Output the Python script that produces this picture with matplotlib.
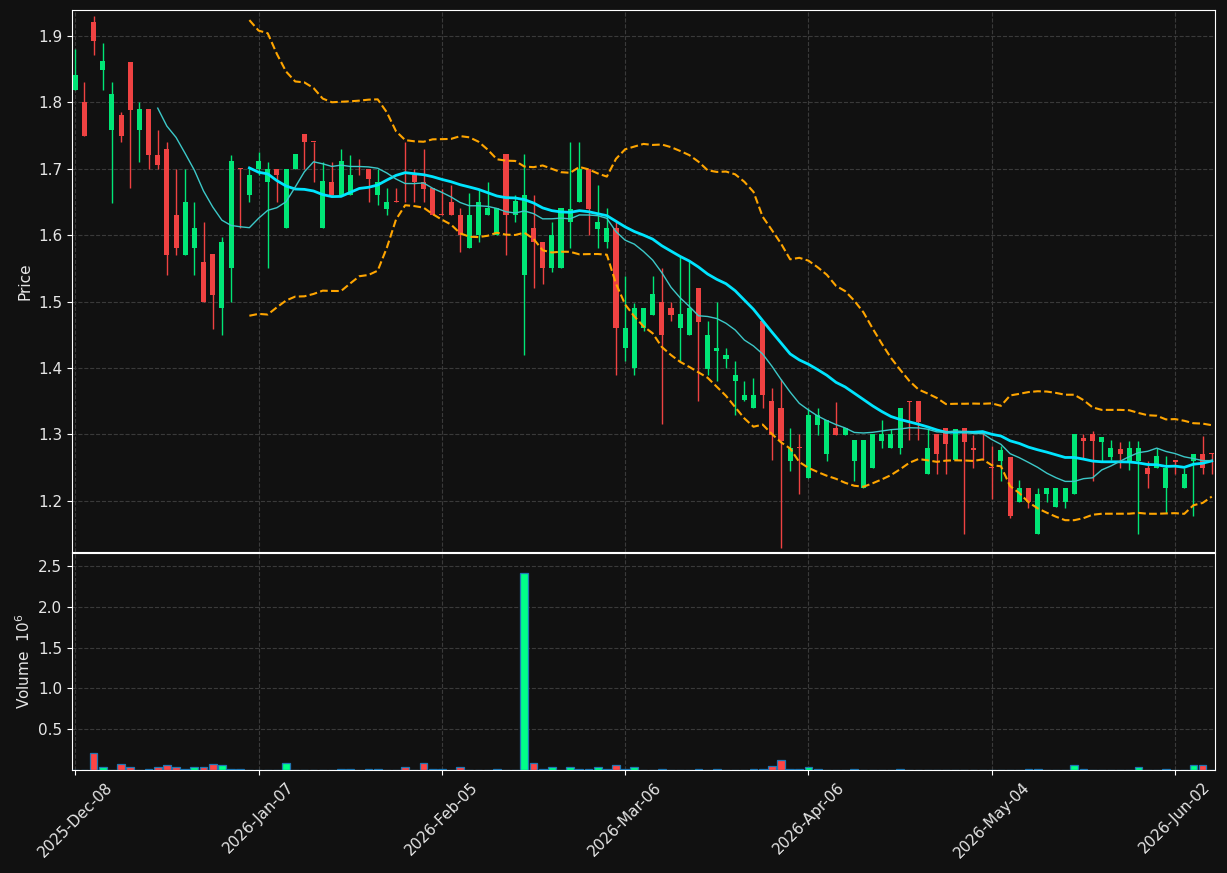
import numpy as np
import pandas as pd
import matplotlib
matplotlib.use("Agg")
import matplotlib.pyplot as plt

# daily OHLC (125 trading days)
opens = [1.819, 1.800, 1.921, 1.849, 1.759, 1.781, 1.861, 1.759, 1.790, 1.721,
         1.730, 1.631, 1.570, 1.580, 1.560, 1.571, 1.490, 1.550, 1.701, 1.660,
         1.700, 1.680, 1.700, 1.611, 1.700, 1.752, 1.741, 1.611, 1.680, 1.660,
         1.660, 1.700, 1.700, 1.660, 1.640, 1.651, 1.673, 1.691, 1.680, 1.671,
         1.631, 1.650, 1.631, 1.580, 1.600, 1.630, 1.600, 1.722, 1.630, 1.540,
         1.611, 1.590, 1.551, 1.551, 1.620, 1.650, 1.700, 1.610, 1.590, 1.611,
         1.430, 1.400, 1.461, 1.480, 1.500, 1.491, 1.460, 1.450, 1.521, 1.399,
         1.425, 1.414, 1.380, 1.352, 1.340, 1.471, 1.350, 1.340, 1.260, 1.281,
         1.234, 1.314, 1.270, 1.310, 1.299, 1.260, 1.219, 1.249, 1.290, 1.279,
         1.279, 1.350, 1.351, 1.240, 1.300, 1.310, 1.262, 1.310, 1.280, 1.302,
         1.251, 1.260, 1.266, 1.199, 1.220, 1.150, 1.210, 1.190, 1.199, 1.210,
         1.295, 1.300, 1.288, 1.266, 1.278, 1.260, 1.260, 1.250, 1.250, 1.219,
         1.262, 1.219, 1.260, 1.271, 1.272]
highs = [1.880, 1.830, 1.930, 1.890, 1.830, 1.785, 1.861, 1.800, 1.790, 1.759,
         1.740, 1.700, 1.700, 1.650, 1.620, 1.571, 1.598, 1.721, 1.701, 1.703,
         1.725, 1.710, 1.700, 1.700, 1.722, 1.752, 1.741, 1.710, 1.710, 1.730,
         1.721, 1.715, 1.700, 1.700, 1.671, 1.671, 1.741, 1.700, 1.730, 1.671,
         1.670, 1.675, 1.641, 1.664, 1.669, 1.680, 1.641, 1.722, 1.660, 1.722,
         1.660, 1.590, 1.620, 1.641, 1.740, 1.740, 1.700, 1.675, 1.641, 1.621,
         1.539, 1.498, 1.491, 1.539, 1.551, 1.500, 1.568, 1.561, 1.521, 1.471,
         1.500, 1.430, 1.410, 1.380, 1.385, 1.471, 1.370, 1.383, 1.310, 1.300,
         1.340, 1.340, 1.321, 1.349, 1.310, 1.291, 1.291, 1.300, 1.321, 1.308,
         1.340, 1.350, 1.351, 1.310, 1.300, 1.310, 1.308, 1.310, 1.299, 1.302,
         1.282, 1.282, 1.266, 1.232, 1.220, 1.220, 1.220, 1.220, 1.220, 1.300,
         1.300, 1.305, 1.296, 1.292, 1.288, 1.290, 1.290, 1.260, 1.280, 1.267,
         1.262, 1.250, 1.271, 1.298, 1.272]
lows = [1.818, 1.750, 1.871, 1.819, 1.649, 1.740, 1.671, 1.710, 1.700, 1.700,
        1.540, 1.570, 1.570, 1.540, 1.500, 1.459, 1.449, 1.500, 1.611, 1.650,
        1.690, 1.551, 1.650, 1.611, 1.700, 1.700, 1.680, 1.611, 1.660, 1.660,
        1.660, 1.690, 1.650, 1.645, 1.630, 1.650, 1.650, 1.650, 1.650, 1.630,
        1.630, 1.630, 1.575, 1.580, 1.590, 1.630, 1.600, 1.570, 1.620, 1.420,
        1.521, 1.526, 1.545, 1.551, 1.581, 1.650, 1.601, 1.581, 1.581, 1.390,
        1.410, 1.390, 1.455, 1.480, 1.315, 1.471, 1.410, 1.450, 1.350, 1.390,
        1.380, 1.400, 1.330, 1.350, 1.340, 1.340, 1.261, 1.129, 1.245, 1.211,
        1.234, 1.299, 1.260, 1.299, 1.299, 1.230, 1.219, 1.249, 1.280, 1.279,
        1.271, 1.291, 1.291, 1.240, 1.241, 1.241, 1.262, 1.150, 1.250, 1.262,
        1.203, 1.230, 1.174, 1.199, 1.189, 1.150, 1.199, 1.190, 1.189, 1.210,
        1.265, 1.230, 1.260, 1.262, 1.250, 1.247, 1.150, 1.220, 1.250, 1.182,
        1.240, 1.219, 1.177, 1.240, 1.240]
closes = [1.841, 1.750, 1.893, 1.862, 1.813, 1.750, 1.789, 1.790, 1.720, 1.705,
          1.570, 1.580, 1.650, 1.611, 1.500, 1.510, 1.590, 1.711, 1.700, 1.691,
          1.711, 1.700, 1.690, 1.700, 1.722, 1.740, 1.740, 1.681, 1.660, 1.711,
          1.691, 1.699, 1.684, 1.680, 1.650, 1.650, 1.672, 1.680, 1.670, 1.630,
          1.630, 1.630, 1.600, 1.631, 1.650, 1.641, 1.641, 1.630, 1.651, 1.661,
          1.590, 1.551, 1.601, 1.641, 1.639, 1.700, 1.640, 1.620, 1.611, 1.461,
          1.461, 1.491, 1.491, 1.511, 1.450, 1.480, 1.481, 1.491, 1.470, 1.450,
          1.430, 1.420, 1.390, 1.360, 1.360, 1.359, 1.299, 1.290, 1.280, 1.280,
          1.330, 1.330, 1.321, 1.299, 1.310, 1.291, 1.291, 1.300, 1.300, 1.300,
          1.340, 1.349, 1.318, 1.280, 1.270, 1.285, 1.308, 1.288, 1.276, 1.300,
          1.249, 1.277, 1.177, 1.220, 1.199, 1.211, 1.220, 1.220, 1.220, 1.300,
          1.290, 1.290, 1.296, 1.280, 1.270, 1.280, 1.280, 1.240, 1.268, 1.250,
          1.258, 1.241, 1.270, 1.249, 1.270]
volumes = [4000, 4000, 208000, 32000, 4000, 72000, 32000, 4000, 18000, 32000,
           59000, 32000, 18000, 32000, 32000, 72000, 59000, 18000, 18000, 4000,
           4000, 4000, 4000, 86000, 4000, 4000, 4000, 4000, 4000, 18000,
           18000, 4000, 18000, 18000, 4000, 4000, 32000, 4000, 86000, 18000,
           18000, 4000, 32000, 4000, 4000, 4000, 18000, 4000, 4000, 2410000,
           86000, 18000, 32000, 4000, 32000, 18000, 18000, 32000, 18000, 59000,
           15000, 32000, 4000, 4000, 18000, 4000, 4000, 4000, 18000, 4000,
           18000, 4000, 4000, 4000, 18000, 18000, 51000, 120000, 18000, 18000,
           32000, 18000, 4000, 4000, 4000, 15000, 4000, 4000, 4000, 4000,
           15000, 4000, 4000, 4000, 4000, 4000, 4000, 4000, 4000, 4000,
           4000, 4000, 4000, 4000, 15000, 15000, 4000, 4000, 4000, 60000,
           15000, 4000, 4000, 4000, 4000, 4000, 32000, 4000, 4000, 15000,
           4000, 4000, 60000, 60000, 4000]

tick_pos = [0, 20, 40, 60, 80, 100, 120]
tick_labels = ["2025-Dec-08", "2026-Jan-07", "2026-Feb-05", "2026-Mar-06",
               "2026-Apr-06", "2026-May-04", "2026-Jun-02"]

bg = "#111111"
up_col = "#00e676"
down_col = "#ef4242"
vol_up = "#00ff88"
vol_down = "#ff4444"
grid_kw = dict(color="#3a3a3a", linestyle="--", linewidth=0.8)

o = np.array(opens)
h = np.array(highs)
l = np.array(lows)
c = np.array(closes)
v = np.array(volumes) / 1e6
x = np.arange(len(c))
rising = c >= o
cols = np.where(rising, up_col, down_col)
vcols = np.where(rising, vol_up, vol_down)

s = pd.Series(c)
ma10 = s.rolling(10).mean()
ma20 = s.rolling(20).mean()
sd20 = s.rolling(20).std(ddof=0)

fig = plt.figure(figsize=(12.27, 8.73), dpi=100, facecolor=bg)
ax = fig.add_axes([0.0587, 0.3677, 0.9315, 0.6208], facecolor=bg)
axv = fig.add_axes([0.0587, 0.118, 0.9315, 0.2486], facecolor=bg, sharex=ax)

# candles
ax.vlines(x, l, h, colors=cols, linewidth=1, zorder=2)
body = np.maximum(np.abs(c - o), 0.0012)
ax.bar(x, body, bottom=np.minimum(o, c), width=0.55, color=cols, zorder=3)

ax.plot(x, ma20 + 2 * sd20, color="#ffa500", linestyle="--", linewidth=1.5, zorder=4)
ax.plot(x, ma20 - 2 * sd20, color="#ffa500", linestyle="--", linewidth=1.5, zorder=4)
ax.plot(x, ma20, color="#00e5ff", linewidth=2, zorder=5)
ax.plot(x, ma10, color="#3cc8c8", linewidth=1, zorder=5)

ax.set_ylim(1.123, 1.939)
ax.set_yticks([1.2, 1.3, 1.4, 1.5, 1.6, 1.7, 1.8, 1.9])
ax.set_ylabel("Price", color="#e6e6e6", fontsize=11)
ax.tick_params(axis="x", labelbottom=False, length=0)

# volume
axv.bar(x, v, width=0.85, color=vcols, edgecolor="#1f77b4", linewidth=0.9, zorder=3)
axv.set_ylim(0, 2.66)
axv.set_yticks([0.5, 1.0, 1.5, 2.0, 2.5])
axv.set_ylabel("Volume  $10^{6}$", color="#e6e6e6", fontsize=11)
axv.set_xticks(tick_pos)
axv.set_xticklabels(tick_labels, rotation=45, ha="center")
axv.set_xlim(-0.35, 124.35)

for a in (ax, axv):
    a.grid(True, **grid_kw)
    a.set_axisbelow(True)
    for sp in a.spines.values():
        sp.set_color("white")
    a.tick_params(colors="white", labelcolor="#e6e6e6", labelsize=11)
    a.set_xticks(tick_pos)

fig.savefig("out.png", dpi=100, facecolor=bg)
